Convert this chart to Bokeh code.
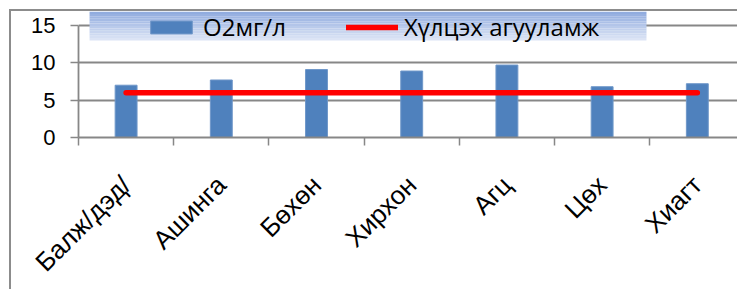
import numpy as np
from math import pi
from bokeh.plotting import figure
from bokeh.models import Range1d, FixedTicker, BoxAnnotation, Legend, LegendItem
from bokeh.embed import file_html
from bokeh.resources import INLINE

# ---- data ----
categories = ["Балж/дэд/", "Ашинга", "Бөхөн", "Хирхон", "Агц", "Цөх", "Хиагт"]
o2_values = [7.0, 7.7, 9.1, 8.9, 9.7, 6.8, 7.2]
limit_values = [6, 6, 6, 6, 6, 6, 6]
y_ticks = [0, 5, 10, 15]
series_names = ["O2мг/л", "Хүлцэх агууламж"]

x = np.arange(len(categories)) + 0.5
boundaries = list(range(len(categories) + 1))

AX = "#878787"

p = figure(width=728, height=280, output_backend="svg", toolbar_location=None,
           x_range=Range1d(0, 6.943), y_range=Range1d(0, 16.87),
           min_border_left=67, min_border_right=0, min_border_top=0,
           min_border_bottom=154, margin=(9, 0, 0, 9))
p.outline_line_color = None
p.background_fill_color = "white"
p.border_fill_color = "white"
p.styles = {"border-left": "2px solid #8c8c8c", "border-top": "2px solid #8c8c8c"}

# x axis
xa = p.xaxis[0]
xa.ticker = FixedTicker(ticks=list(x), minor_ticks=boundaries)
xa.major_label_overrides = {float(xi): c for xi, c in zip(x, categories)}
xa.major_tick_line_color = None
xa.minor_tick_line_color = AX
xa.minor_tick_line_width = 1.5
xa.minor_tick_out = 8
xa.minor_tick_in = 0
xa.axis_line_color = AX
xa.axis_line_width = 1.8
xa.major_label_orientation = pi / 4
xa.major_label_standoff = 35
xa.major_label_text_font = "Liberation Sans"
xa.major_label_text_font_size = "26px"
xa.major_label_text_color = "black"

# y axis
ya = p.yaxis[0]
ya.ticker = FixedTicker(ticks=y_ticks)
ya.bounds = (0, 15)
ya.major_tick_out = 8
ya.major_tick_in = 0
ya.minor_tick_line_color = None
ya.major_tick_line_color = AX
ya.major_tick_line_width = 1.5
ya.axis_line_color = AX
ya.axis_line_width = 1.8
ya.major_label_standoff = 15
ya.major_label_text_font = "Liberation Sans"
ya.major_label_text_font_size = "22px"
ya.major_label_text_color = "black"

p.xgrid.grid_line_color = None
p.ygrid.ticker = FixedTicker(ticks=y_ticks)
p.ygrid.grid_line_color = AX
p.ygrid.grid_line_width = 1.8

bars = p.vbar(x=x, top=o2_values, width=0.23, fill_color="#4f81bd",
              line_color="#6f97c9", line_width=1)
line = p.line(x, limit_values, line_color="#ff0000", line_width=5.5, line_cap="round")

# legend background (vertical gradient)
top_c = np.array([0x8e, 0xaa, 0xdf])
bot_c = np.array([0xe0, 0xe7, 0xf6])
n = 12
y_top, y_bot = 16.87, 12.99
for i in range(n):
    t = (i + 0.5) / n
    c = (top_c * (1 - t) + bot_c * t).astype(int)
    col = "#%02x%02x%02x" % tuple(c)
    yt = y_top - (y_top - y_bot) * i / n
    yb = y_top - (y_top - y_bot) * (i + 1) / n
    p.add_layout(BoxAnnotation(left=0.116, right=5.966, top=yt, bottom=yb,
                               fill_color=col, fill_alpha=1, line_color=None))

legend = Legend(items=[LegendItem(label=series_names[0], renderers=[bars]),
                       LegendItem(label=series_names[1], renderers=[line])],
                orientation="horizontal", location=(67, 94), padding=4,
                spacing=60, glyph_width=52, glyph_height=16, label_standoff=6,
                label_text_font="Open Sans", label_text_font_size="24px",
                label_text_color="black",
                background_fill_alpha=0, border_line_color=None, margin=0)
p.add_layout(legend)

open("out.html", "w").write(file_html(p, INLINE))
